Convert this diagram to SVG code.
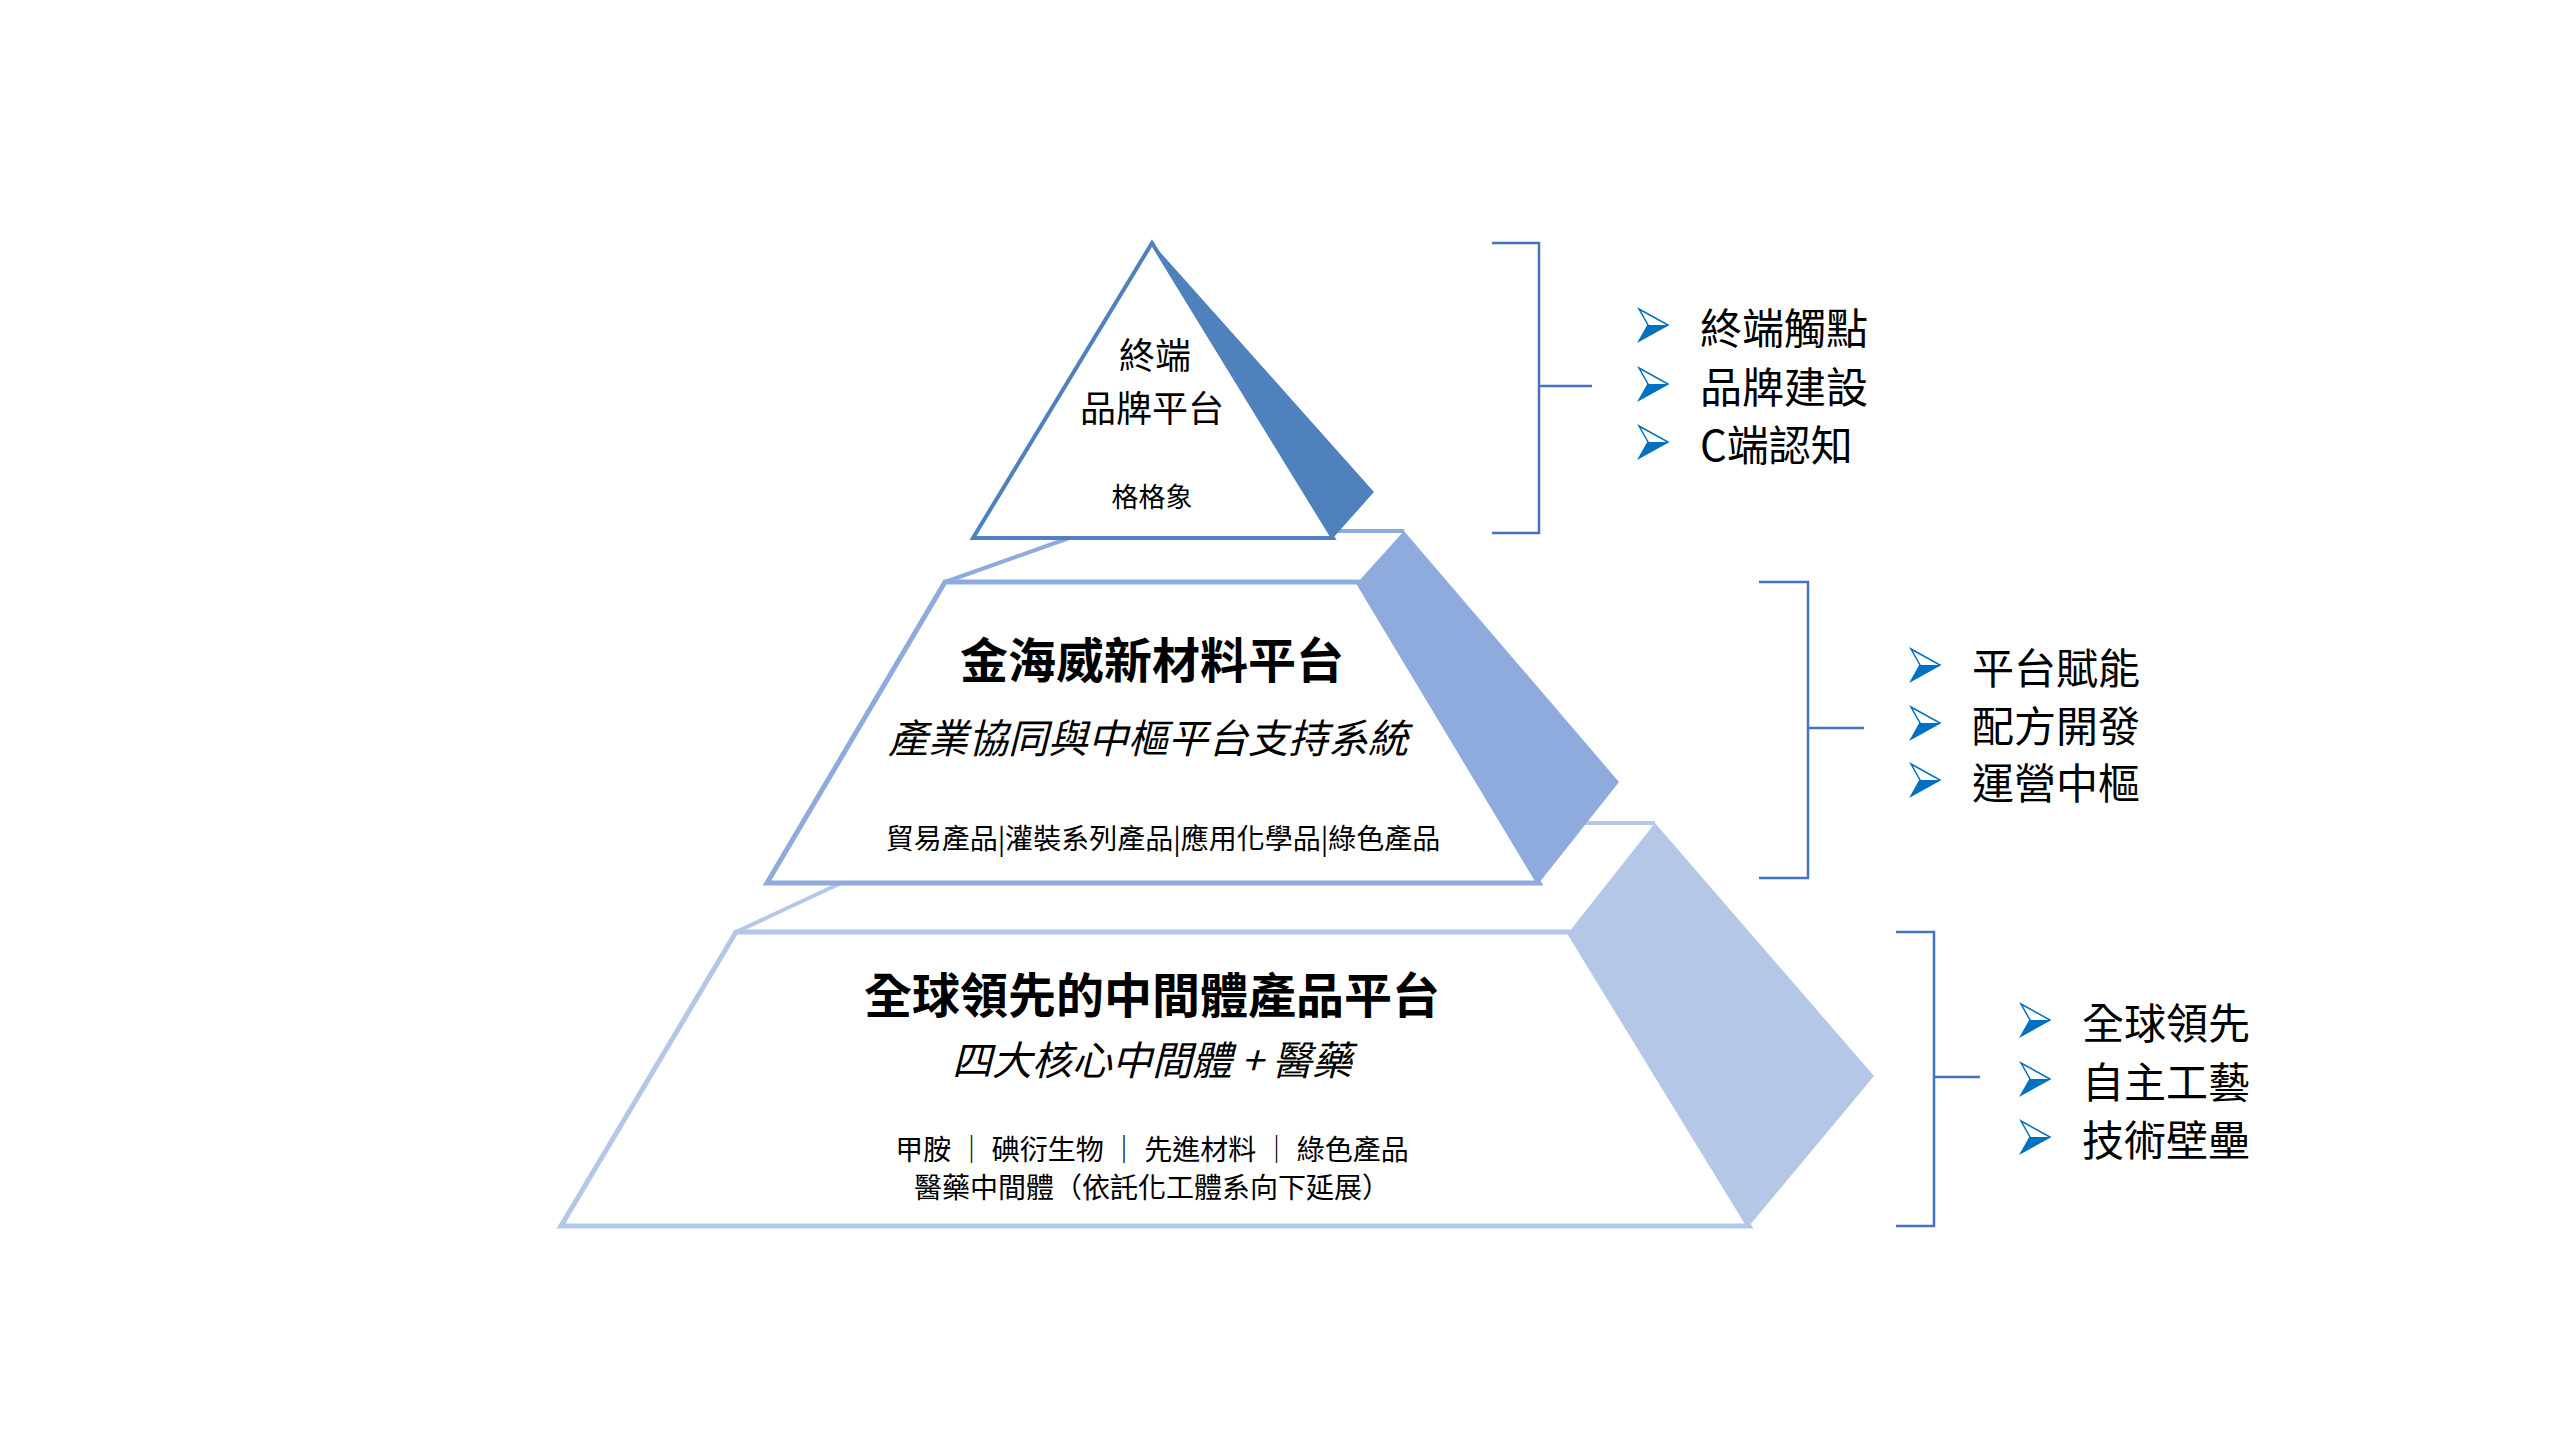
<svg xmlns="http://www.w3.org/2000/svg" width="2560" height="1440" viewBox="0 0 2560 1440">
<style>
text{font-family:"Noto Sans CJK TC","Noto Sans CJK SC",sans-serif;fill:#000;text-anchor:middle;dominant-baseline:central}
.b{font-weight:bold}
.i{font-style:italic}
.li{text-anchor:start;font-size:42px}
.br{fill:none;stroke:#4472C4;stroke-width:2.5}
</style>
<defs>
<g id="arr">
<polygon points="-13,-16 16,0 -13,16 -4,0" fill="#fff" stroke="#0070C0" stroke-width="1.5"/>
<polygon points="-4,0 16,0 -13,16" fill="#0070C0"/>
</g>
</defs>
<rect width="2560" height="1440" fill="#fff"/>
<g id="connectors">
<line x1="1069" y1="538" x2="945" y2="582" stroke="#8FAADC" stroke-width="4"/>
<line x1="1333" y1="531" x2="1404" y2="531" stroke="#8FAADC" stroke-width="4"/>
<line x1="841" y1="883" x2="736" y2="932" stroke="#B4C7E7" stroke-width="4"/>
<line x1="1539" y1="823" x2="1655" y2="823" stroke="#B4C7E7" stroke-width="4"/>
<path class="br" d="M1492,243 H1539 V533 H1492 M1539,386 H1592"/>
<path class="br" d="M1759,582 H1808 V878 H1759 M1808,728 H1864"/>
<path class="br" d="M1896,932 H1934 V1226 H1896 M1934,1077 H1980"/>
</g>
<g id="bottom">
<polygon points="1569,932 1655,823 1874,1076 1749,1226" fill="#B4C7E7"/>
<polygon points="736,932 1569,932 1749,1226 561,1226" fill="#fff" stroke="#B4C7E7" stroke-width="5"/>
<text x="1152" y="992" class="b" font-size="48">全球領先的中間體產品平台</text>
<text x="1152" y="1058" class="i" font-size="40">四大核心中間體 + 醫藥</text>
<text x="1152" y="1148" font-size="28">甲胺 ｜ 碘衍生物 ｜ 先進材料 ｜ 綠色產品</text>
<text x="1152" y="1186" font-size="28">醫藥中間體（依託化工體系向下延展）</text>
</g>
<g id="middle">
<polygon points="1358,582 1404,531 1619,782 1539,883" fill="#8FAADC"/>
<polygon points="945,582 1358,582 1539,883 767,883" fill="#fff" stroke="#8FAADC" stroke-width="5"/>
<text x="1152" y="657" class="b" font-size="48">金海威新材料平台</text>
<text x="1148" y="736" class="i" font-size="40">產業協同與中樞平台支持系統</text>
<text x="1163" y="837" font-size="28">貿易產品|灌裝系列產品|應用化學品|綠色產品</text>
</g>
<g id="top">
<polygon points="1152,243 1374,492 1333,538" fill="#4F81BD"/>
<polygon points="1152,243 1333,538 973,538" fill="#fff" stroke="#4F81BD" stroke-width="4"/>
<text x="1155" y="353" font-size="36">終端</text>
<text x="1152" y="406" font-size="36">品牌平台</text>
<text x="1152" y="495" font-size="27">格格象</text>
</g>
<g id="list1">
<use href="#arr" x="1652" y="325"/><text x="1700" y="325" class="li">終端觸點</text>
<use href="#arr" x="1652" y="384"/><text x="1700" y="384" class="li">品牌建設</text>
<use href="#arr" x="1652" y="442"/><text x="1700" y="442" class="li">C端認知</text>
</g>
<g id="list2">
<use href="#arr" x="1924" y="665"/><text x="1972" y="665" class="li">平台賦能</text>
<use href="#arr" x="1924" y="723"/><text x="1972" y="723" class="li">配方開發</text>
<use href="#arr" x="1924" y="780"/><text x="1972" y="780" class="li">運營中樞</text>
</g>
<g id="list3">
<use href="#arr" x="2034" y="1020"/><text x="2082" y="1020" class="li">全球領先</text>
<use href="#arr" x="2034" y="1079"/><text x="2082" y="1079" class="li">自主工藝</text>
<use href="#arr" x="2034" y="1137"/><text x="2082" y="1137" class="li">技術壁壘</text>
</g>
</svg>
